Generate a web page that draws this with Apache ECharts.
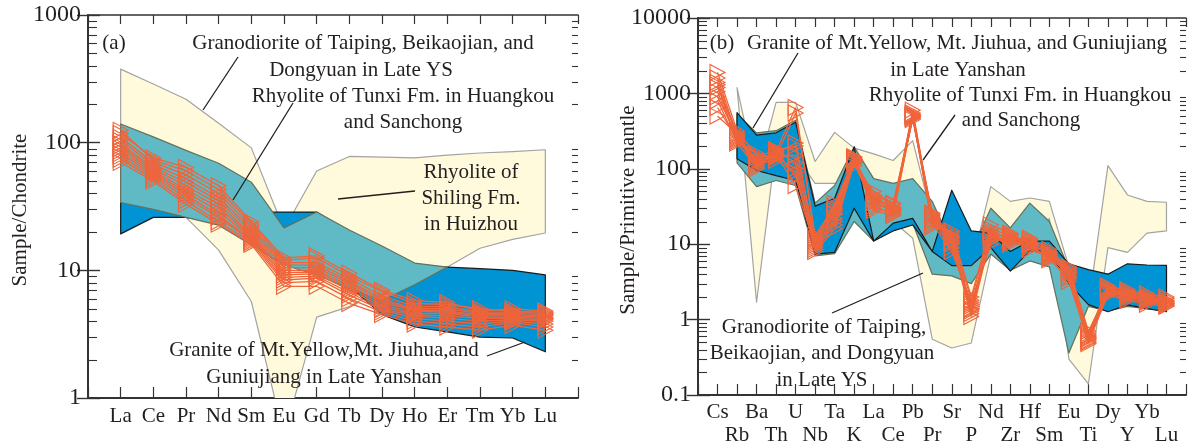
<!DOCTYPE html>
<html><head><meta charset="utf-8">
<script src="https://cdn.jsdelivr.net/npm/echarts@6/dist/echarts.min.js"></script>
<style>html,body{margin:0;padding:0;background:#fff}#c{width:1189px;height:447px}</style>
</head><body><div id="c"></div>
<script>
// ---------- categories ----------
const reeCats = ['La','Ce','Pr','Nd','Sm','Eu','Gd','Tb','Dy','Ho','Er','Tm','Yb','Lu'];
const spiderCats = ['Cs','Rb','Ba','Th','U','Nb','Ta','K','La','Ce','Pb','Pr','Sr','P','Nd','Zr','Hf','Sm','Eu','Ti','Dy','Y','Yb','Lu'];

// ---------- (a) fields: upper / lower envelopes ----------
const granodioriteA_up = [377,288,219,142,91,21,60,78,77,76,80,83,85,88];
const granodioriteA_lo = [30,28,26,14.4,5.7,0.5,4.3,5.2,7.2,10.6,10.6,14.9,17.5,19.6];
const graniteA_up = [34,34,26,27,28.6,28.6,28.6,20,14,10.6,10.6,10.3,10,9.2];
const graniteA_lo = [19.3,26,26,24,20,14,10,7.5,4.5,3.6,3.3,3.0,2.95,2.3];
const tunxiA_up = [140,111,87,69,49,21.5,28.6,20.7,15.5,11.4,10.6,null,null,null];
const tunxiA_lo = [34,30,26,22.6,15.8,11,9.2,7.2,5.8,7.7,10.6,null,null,null];

// ---------- (a) samples ----------
const sampleA1  = [125,73,60,43,23,12,12.5,9,6.8,5.5,5.4,5.0,4.8,4.7];
const sampleA2  = [118,76,64,46,24,12.5,13,9.5,7,5.8,5.6,4.8,5.0,4.8];
const sampleA3  = [110,70,56,40,22,11.5,11.5,8.6,6.3,5.2,5.2,4.7,4.7,4.6];
const sampleA4  = [104,67,52,37,21,11,11,8.2,6,5,5,4.6,4.6,4.5];
const sampleA5  = [98,64,49,35,20,10.5,10.5,7.9,5.8,4.9,4.8,4.5,4.5,4.4];
const sampleA6  = [94,62,46,33,19,10,10,7.6,5.6,4.8,4.7,4.4,4.4,4.3];
const sampleA7  = [90,60,43,31,18.5,9.6,9.7,7.3,5.4,4.6,4.6,4.3,4.3,4.2];
const sampleA8  = [86,58,41,29,18,9.2,9.4,7,5.2,4.5,4.4,4.2,4.2,4.1];
const sampleA9  = [82,56,39,27,17.5,8.8,9,6.7,5,4.4,4.2,4.0,4.1,4.0];
const sampleA10 = [78,54,37,26,17,8.4,8.7,6.4,4.9,4.2,4.0,3.8,4.0,3.8];
const sampleA11 = [74,52,35,24,16.5,8,8.2,6,4.7,4,3.8,3.6,3.9,3.6];
const sampleA12 = [70,50,33,23,16,7.5,7.5,5.5,4.5,3.8,3.6,3.4,3.7,3.4];

// ---------- (b) fields ----------
const granodioriteB_up = [null,1190,80,760,760,125,304,188,158,129,236,22,5,5,58,37,41,37,5,1.5,110,45,37,36];
const granodioriteB_lo = [null,1190,1.7,200,150,64,64,60,30,20,12,0.55,0.42,0.49,7.3,8,8,22,0.3,0.14,9,7.8,14,15];
const tunxiB_up = [null,530,300,320,440,35,60,195,74,64,74,37,10,8,30,16.5,35,20,4.7,3,4,5,5,5];
const tunxiB_lo = [null,120,58,70,60,7,7.5,20,11,15.6,19,4,3.8,3.0,7.4,4.5,6,5,0.36,1.5,1.3,1.5,1.4,1.3];
const graniteB_up = [null,556,280,300,415,32,40.6,195,11,19,22,8,52,15,14,8,11,11,5.5,4.6,4.0,5.5,5.3,5.25];
const graniteB_lo = [null,136,95,81,70,7.4,7.8,30,11,15,18,8,5.2,5.2,9,4.4,8.2,8,3,1.58,1.27,1.57,1.4,1.27];

// ---------- (b) samples ----------
const sampleB1  = [1900,320,150,170,650,12,30,130,40,30,550,22,12,1.5,14,12,10,7.5,4.2,0.6,2.5,2.2,1.9,1.7];
const sampleB2  = [1600,280,130,160,220,10,25,140,35,28,500,20,10,1.3,12,11,9,7,3.8,0.55,2.3,2,1.8,1.6];
const sampleB3  = [1400,260,120,150,150,9,20,120,30,26,480,18,14,1.8,16,13,11,8,4.5,0.65,2.6,2.3,2,1.8];
const sampleB4  = [1200,300,110,175,120,11,35,135,45,34,520,25,11,1.2,13,10.5,9.5,6.5,3.5,0.5,2.2,1.9,1.7,1.55];
const sampleB5  = [1050,240,160,140,100,8.5,18,125,38,29,600,21,9,1.6,11,12.5,10.5,7.2,4,0.58,2.8,2.4,2.1,1.9];
const sampleB6  = [900,270,100,165,80,10.5,28,110,50,35,450,26,13,1.4,15,11.5,12,8.5,5,0.7,2.4,2.1,1.85,1.65];
const sampleB7  = [800,230,140,155,60,9.5,22,145,32,25,530,17,15,2,18,14,8.5,6.8,3.2,0.52,2.1,1.8,1.6,1.5];
const sampleB8  = [650,250,125,145,550,13,32,128,42,31,470,23,10.5,1.1,12.5,10,11.5,7.8,4.8,0.62,2.7,2.5,2.2,2];
const sampleB9  = [500,290,115,130,90,8,16,118,36,27,510,19,8,1.7,10,13.5,9.8,6.2,3.6,0.48,2.35,2.05,1.75,1.62];
const sampleB10 = [1300,220,105,180,200,11.5,26,138,28,24,490,24,12.5,1.35,13.5,11,10.2,7.4,4.4,0.56,2.45,2.15,1.95,1.75];

// ---------- axis decorations ----------
const minorMant = [2,3,4,5,6,7,8,9];
const decadesA = [1,10,100];
const decadesB = [0.1,1,10,100,1000];

// ---------- styles ----------
const YELLOW = '#FFFADB', YELLOW_EDGE = '#A3A3A3';
const BLUE = '#0094D4', BLUE_EDGE = '#1a1a1a';
const TEAL = '#5FBAC5', TEAL_EDGE = '#66705A';
const ORANGE = '#F0643A';
const INK = '#231F20';
const FONT = '"Liberation Serif", "Times New Roman", serif';

function field(ai, up, lo, fill, stroke, lw, z) {
  return {
    type: 'custom', xAxisIndex: ai, yAxisIndex: ai, silent: true, z: z,
    data: [[1, 1]],
    renderItem: function (params, api) {
      const cs = params.coordSys;
      const segs = []; let cur = [];
      up.forEach((v, i) => { if (v == null) { if (cur.length) segs.push(cur); cur = []; } else cur.push(i); });
      if (cur.length) segs.push(cur);
      const children = segs.map(seg => {
        const pts = seg.map(i => api.coord([i + 1, up[i]]))
          .concat(seg.slice().reverse().map(i => api.coord([i + 1, lo[i]])));
        return { type: 'polygon', shape: { points: pts }, style: { fill: fill, stroke: stroke, lineWidth: lw, lineJoin: 'round' } };
      });
      return { type: 'group', children: children,
        clipPath: { type: 'rect', shape: { x: cs.x, y: cs.y, width: cs.width, height: cs.height } } };
    }
  };
}

function minorTicks(ai, decades, lenL, lenR) {
  return {
    type: 'custom', xAxisIndex: ai, yAxisIndex: ai, silent: true, z: 20,
    data: [[1, 1]],
    renderItem: function (params, api) {
      const cs = params.coordSys; const ch = [];
      decades.forEach(d => minorMant.forEach(m => {
        const y = Math.round(api.coord([1, d * m])[1]) + 0.5;
        ch.push({ type: 'line', shape: { x1: cs.x, y1: y, x2: cs.x + lenL, y2: y }, style: { stroke: '#333', lineWidth: 1.1 } });
        ch.push({ type: 'line', shape: { x1: cs.x + cs.width, y1: y, x2: cs.x + cs.width - lenR, y2: y }, style: { stroke: '#333', lineWidth: 1.1 } });
      }));
      return { type: 'group', children: ch };
    }
  };
}

function sample(ai, arr) {
  return {
    type: 'line', xAxisIndex: ai, yAxisIndex: ai, silent: true, z: 10,
    data: arr.map((v, i) => [i + 1, v]),
    symbol: 'triangle', symbolSize: [16, 15], symbolRotate: -90,
    lineStyle: { color: ORANGE, width: 1.3 },
    itemStyle: { color: 'rgba(0,0,0,0)', borderColor: ORANGE, borderWidth: 1.1 },
    animation: false
  };
}

const logFmt = v => String(Math.round(v * 1000) / 1000);

const xBase = (gi, max, fmt, lh) => ({
  gridIndex: gi, type: 'value', min: 0, max: max, interval: 1, position: 'bottom',
  axisLine: { lineStyle: { color: '#333', width: 2 } },
  axisTick: { inside: true, length: 11, lineStyle: { color: '#333', width: 1.2 } },
  splitLine: { show: false },
  axisLabel: { formatter: fmt, color: INK, fontFamily: FONT, fontSize: 21, margin: 6, lineHeight: lh }
});
const xTop = (gi, max) => ({
  gridIndex: gi, type: 'value', min: 0, max: max, interval: 1, position: 'top',
  axisLine: { lineStyle: { color: '#333', width: 1.5 } },
  axisTick: { inside: true, length: 9, lineStyle: { color: '#333', width: 1.2 } },
  splitLine: { show: false }, axisLabel: { show: false }
});
const yLeft = (gi, min, max, sn) => ({
  gridIndex: gi, type: 'log', logBase: 10, min: min, max: max, splitNumber: sn, position: 'left',
  axisLine: { lineStyle: { color: '#333', width: 2 } },
  axisTick: { inside: true, length: 12, lineStyle: { color: '#333', width: 1.4 } },
  splitLine: { show: false },
  axisLabel: { formatter: logFmt, color: INK, fontFamily: FONT, fontSize: 24, margin: 7 }
});
const yRight = (gi, min, max, sn) => ({
  gridIndex: gi, type: 'log', logBase: 10, min: min, max: max, splitNumber: sn, position: 'right',
  axisLine: { lineStyle: { color: '#333', width: 1.5 } },
  axisTick: { inside: true, length: 11, lineStyle: { color: '#333', width: 1.4 } },
  splitLine: { show: false }, axisLabel: { show: false }
});

const chart = echarts.init(document.getElementById('c'), null, { renderer: 'canvas' });

const txt = (t, x, y, align) => ({ type: 'text', x: x, y: y, z: 100,
  style: { text: t, fill: INK, font: '21px ' + FONT, align: align || 'center', verticalAlign: 'middle' } });
const ln = (x1, y1, x2, y2) => ({ type: 'line', z: 100, shape: { x1, y1, x2, y2 }, style: { stroke: INK, lineWidth: 1.3 } });

chart.setOption({
  animation: false,
  grid: [
    { left: 88, top: 15, width: 490, height: 383 },
    { left: 698, top: 18, width: 490, height: 382 }
  ],
  xAxis: [
    xBase(0, 15, v => reeCats[v - 1] || '', 24),
    xTop(0, 15),
    xBase(1, 25, v => { const n = spiderCats[v - 1]; if (!n) return ''; return (v % 2 === 1) ? n : '\n' + n; }, 23),
    xTop(1, 25)
  ],
  yAxis: [
    yLeft(0, 1, 1000, 3), yRight(0, 1, 1000, 3),
    yLeft(1, 0.1, 10000, 5), yRight(1, 0.1, 10000, 5)
  ],
  graphic: [
    { type: 'text', x: 20, y: 210, rotation: Math.PI / 2, z: 100,
      style: { text: 'Sample/Chondrite', fill: INK, font: '21px ' + FONT, align: 'center', verticalAlign: 'middle' } },
    { type: 'text', x: 628, y: 210, rotation: Math.PI / 2, z: 100,
      style: { text: 'Sample/Primitive mantle', fill: INK, font: '21px ' + FONT, align: 'center', verticalAlign: 'middle' } },
    txt('(a)', 114, 43),
    txt('Granodiorite of Taiping, Beikaojian, and', 363, 43),
    txt('Dongyuan in Late YS', 361, 70),
    txt('Rhyolite of Tunxi Fm. in Huangkou', 403, 96),
    txt('and Sanchong', 403, 122),
    txt('Rhyolite of', 471, 172),
    txt('Shiling Fm.', 471, 198),
    txt('in Huizhou', 471, 224),
    txt('Granite of Mt.Yellow,Mt. Jiuhua,and', 324, 350),
    txt('Guniujiang in Late Yanshan', 324, 377),
    ln(238, 57, 203, 110), ln(293, 103, 233, 200), ln(338, 199, 415, 191), ln(487, 356, 525, 342),
    txt('(b)', 722, 43),
    txt('Granite of Mt.Yellow, Mt. Jiuhua, and Guniujiang', 957, 43),
    txt('in Late Yanshan', 958, 70),
    txt('Rhyolite of Tunxi Fm. in Huangkou', 1020, 95),
    txt('and Sanchong', 1021, 120),
    txt('Granodiorite of Taiping,', 824, 327),
    txt('Beikaojian, and Dongyuan', 822, 353),
    txt('in Late YS', 822, 380),
    ln(798, 53, 753, 128), ln(955, 115, 923, 160), ln(832, 313, 923, 273)
  ],
  series: [
    field(0, granodioriteA_up, granodioriteA_lo, YELLOW, YELLOW_EDGE, 1.2, 1),
    field(0, graniteA_up, graniteA_lo, BLUE, BLUE_EDGE, 1.2, 2),
    field(0, tunxiA_up, tunxiA_lo, TEAL, TEAL_EDGE, 1.2, 3),
    minorTicks(0, decadesA, 9, 6),
    sample(0, sampleA1), sample(0, sampleA2), sample(0, sampleA3), sample(0, sampleA4),
    sample(0, sampleA5), sample(0, sampleA6), sample(0, sampleA7), sample(0, sampleA8),
    sample(0, sampleA9), sample(0, sampleA10), sample(0, sampleA11), sample(0, sampleA12),

    field(2, granodioriteB_up, granodioriteB_lo, YELLOW, YELLOW_EDGE, 1.2, 1),
    field(2, tunxiB_up, tunxiB_lo, TEAL, TEAL_EDGE, 1.2, 2),
    field(2, graniteB_up, graniteB_lo, BLUE, BLUE_EDGE, 1.2, 3),
    minorTicks(2, decadesB, 9, 6),
    sample(2, sampleB1), sample(2, sampleB2), sample(2, sampleB3), sample(2, sampleB4), sample(2, sampleB5),
    sample(2, sampleB6), sample(2, sampleB7), sample(2, sampleB8), sample(2, sampleB9), sample(2, sampleB10)
  ]
});
</script></body></html>
